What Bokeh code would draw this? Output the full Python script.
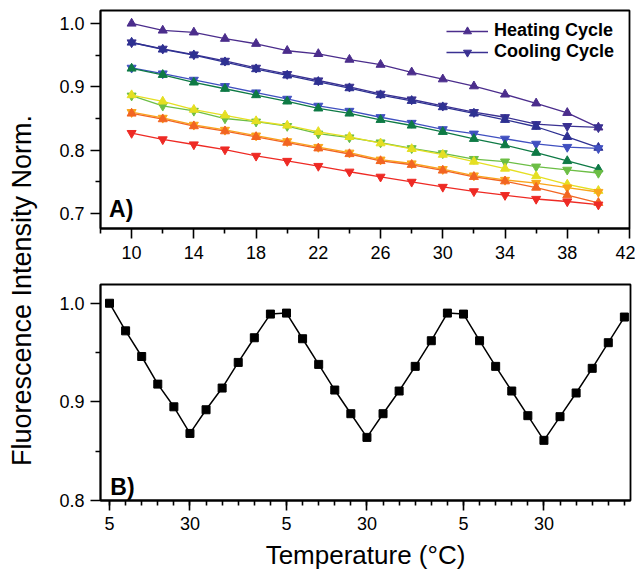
import math
from bokeh.plotting import figure
from bokeh.layouts import row, column
from bokeh.models import FixedTicker, PrintfTickFormatter, Label, Legend, LegendItem, Range1d
from bokeh.embed import file_html
from bokeh.resources import INLINE

# ---------------- data: panel A ----------------
temps = [10, 12, 14, 16, 18, 20, 22, 24, 26, 28, 30, 32, 34, 36, 38, 40]

heating_1 = [1.000, 0.989, 0.986, 0.976, 0.968, 0.957, 0.952, 0.943, 0.935, 0.923, 0.912, 0.901, 0.888, 0.874, 0.859, 0.836]
cooling_1 = [0.970, 0.960, 0.951, 0.941, 0.930, 0.920, 0.910, 0.900, 0.889, 0.880, 0.870, 0.860, 0.852, 0.841, 0.838, 0.836]
heating_2 = [0.970, 0.959, 0.950, 0.939, 0.928, 0.918, 0.908, 0.898, 0.887, 0.878, 0.868, 0.858, 0.848, 0.837, 0.821, 0.804]
cooling_2 = [0.930, 0.921, 0.911, 0.901, 0.891, 0.881, 0.870, 0.862, 0.852, 0.843, 0.833, 0.826, 0.818, 0.810, 0.805, 0.803]
heating_3 = [0.929, 0.919, 0.907, 0.897, 0.887, 0.877, 0.866, 0.858, 0.848, 0.839, 0.829, 0.818, 0.808, 0.796, 0.783, 0.770]
cooling_3 = [0.886, 0.870, 0.862, 0.850, 0.845, 0.838, 0.826, 0.820, 0.812, 0.803, 0.795, 0.786, 0.782, 0.774, 0.769, 0.764]
heating_4 = [0.887, 0.877, 0.864, 0.855, 0.846, 0.839, 0.829, 0.821, 0.811, 0.802, 0.793, 0.782, 0.771, 0.759, 0.746, 0.736]
cooling_4 = [0.860, 0.851, 0.840, 0.832, 0.823, 0.814, 0.805, 0.796, 0.785, 0.779, 0.770, 0.760, 0.753, 0.748, 0.741, 0.734]
heating_5 = [0.858, 0.849, 0.838, 0.830, 0.821, 0.812, 0.803, 0.794, 0.783, 0.777, 0.768, 0.758, 0.751, 0.741, 0.729, 0.717]
cooling_5 = [0.827, 0.817, 0.809, 0.801, 0.791, 0.783, 0.775, 0.766, 0.758, 0.750, 0.742, 0.735, 0.729, 0.723, 0.719, 0.714]

series_names = ["heating_1", "cooling_1", "heating_2", "cooling_2", "heating_3",
                "cooling_3", "heating_4", "cooling_4", "heating_5", "cooling_5"]
series_values = [heating_1, cooling_1, heating_2, cooling_2, heating_3,
                 cooling_3, heating_4, cooling_4, heating_5, cooling_5]
series_colors = ["#4B2D8C", "#3A3192", "#2E3192", "#4050C0", "#0E7A45",
                 "#6CBE45", "#E5DF22", "#F9A51B", "#F26522", "#EE2A24"]
series_markers = ["triangle", "inverted_triangle"] * 5

a_x_major = [10, 14, 18, 22, 26, 30, 34, 38, 42]
a_x_minor = [8, 12, 16, 20, 24, 28, 32, 36, 40]
a_y_major = [0.7, 0.8, 0.9, 1.0]
a_y_minor = [0.75, 0.85, 0.95]

# ---------------- data: panel B ----------------
cycle_index = list(range(33))
cycle_values = [1.000, 0.972, 0.946, 0.918, 0.895, 0.868, 0.892, 0.914, 0.940, 0.965, 0.989,
                0.990, 0.964, 0.938, 0.912, 0.888, 0.864, 0.888, 0.911, 0.936, 0.962, 0.990,
                0.989, 0.962, 0.936, 0.911, 0.886, 0.861, 0.885, 0.909, 0.934, 0.960, 0.986]
cycle_tick_pos = [0, 5, 11, 16, 22, 27]
cycle_tick_labels = ["5", "30", "5", "30", "5", "30"]
b_y_major = [0.8, 0.9, 1.0]
b_y_minor = [0.85, 0.95]

FONT = "Liberation Sans"


def style(p):
    p.background_fill_color = "white"
    p.border_fill_color = "white"
    p.outline_line_color = "black"
    p.outline_line_width = 1.8
    p.xgrid.visible = False
    p.ygrid.visible = False
    for ax in p.axis:
        ax.axis_line_width = 1.8
        ax.axis_line_color = "black"
        ax.major_tick_line_width = 1.6
        ax.minor_tick_line_width = 1.6
        ax.major_tick_line_color = "black"
        ax.minor_tick_line_color = "black"
        ax.major_tick_in = 0
        ax.major_tick_out = 10
        ax.minor_tick_in = 0
        ax.minor_tick_out = 5
        ax.major_label_text_font = FONT
        ax.major_label_text_font_size = "18px"
        ax.major_label_text_color = "black"
        ax.major_label_standoff = 6


# ---------------- panel A ----------------
p1 = figure(frame_width=529, frame_height=218, output_backend="svg", toolbar_location=None,
            x_range=Range1d(8, 42), y_range=Range1d(0.6764, 1.0205),
            min_border_left=62, min_border_right=6, min_border_top=10, min_border_bottom=40)
style(p1)
p1.xaxis.major_label_standoff = 7
p1.xaxis.ticker = FixedTicker(ticks=a_x_major, minor_ticks=a_x_minor)
p1.yaxis.ticker = FixedTicker(ticks=a_y_major, minor_ticks=a_y_minor)
p1.yaxis.formatter = PrintfTickFormatter(format="%.1f")

renderers = {}
for name, vals, col, mk in zip(series_names, series_values, series_colors, series_markers):
    ln = p1.line(temps, vals, line_color=col, line_width=1.3)
    sc = p1.scatter(temps, vals, marker=mk, size=9, fill_color=col, line_color=col)
    renderers[name] = (ln, sc)

legend = Legend(items=[
    LegendItem(label="Heating Cycle", renderers=list(renderers["heating_1"])),
    LegendItem(label="Cooling Cycle", renderers=list(renderers["cooling_1"])),
], location=(346, 166))
legend.border_line_color = None
legend.background_fill_alpha = 0
legend.label_text_font = FONT
legend.label_text_font_style = "bold"
legend.label_text_font_size = "18px"
legend.label_text_color = "black"
legend.glyph_width = 42
legend.glyph_height = 20
legend.spacing = 0
legend.label_standoff = 6
legend.padding = 4
legend.margin = 0
p1.add_layout(legend)

p1.add_layout(Label(x=8.55, y=0.7079, text="A)", text_font=FONT, text_font_style="bold",
                    text_font_size="23px", text_baseline="alphabetic", text_color="black"))

# ---------------- panel B ----------------
p2 = figure(frame_width=530, frame_height=216, output_backend="svg", toolbar_location=None,
            x_range=Range1d(-0.56, 32.38), y_range=Range1d(0.8, 1.019),
            min_border_left=62, min_border_right=5, min_border_top=16, min_border_bottom=60)
style(p2)
p2.xaxis.major_label_standoff = 6
p2.xaxis.ticker = FixedTicker(ticks=cycle_tick_pos, minor_ticks=cycle_index)
p2.xaxis.major_label_overrides = {pos: lab for pos, lab in zip(cycle_tick_pos, cycle_tick_labels)}
p2.yaxis.ticker = FixedTicker(ticks=b_y_major, minor_ticks=b_y_minor)
p2.yaxis.formatter = PrintfTickFormatter(format="%.1f")
p2.xaxis.axis_label = "Temperature (°C)"
p2.xaxis.axis_label_text_font = FONT
p2.xaxis.axis_label_text_font_style = "normal"
p2.xaxis.axis_label_text_font_size = "26px"
p2.xaxis.axis_label_text_color = "black"
p2.xaxis.axis_label_standoff = 7

p2.line(cycle_index, cycle_values, line_color="black", line_width=1.5)
p2.scatter(cycle_index, cycle_values, marker="square", size=8, fill_color="black", line_color="black")

p2.add_layout(Label(x=0.05, y=0.814, text="B)", text_font=FONT, text_font_style="bold",
                    text_font_size="23px", text_baseline="alphabetic", text_color="black"))

# ---------------- shared y label ----------------
TOTAL_H = 576
lab = figure(width=38, height=TOTAL_H, output_backend="svg", toolbar_location=None,
             x_range=Range1d(0, 38), y_range=Range1d(0, TOTAL_H),
             x_axis_type=None, y_axis_type=None, min_border=0)
lab.outline_line_color = None
lab.xgrid.visible = False
lab.ygrid.visible = False
lab.add_layout(Label(x=21, y=TOTAL_H - 290, text="Fluorescence Intensity Norm.", angle=math.pi / 2,
                     text_align="center", text_baseline="middle", text_font=FONT,
                     text_font_size="27px", text_color="black"))

layout = row(lab, column(p1, p2, spacing=0), spacing=0)

open("out.html", "w").write(file_html(layout, INLINE))
